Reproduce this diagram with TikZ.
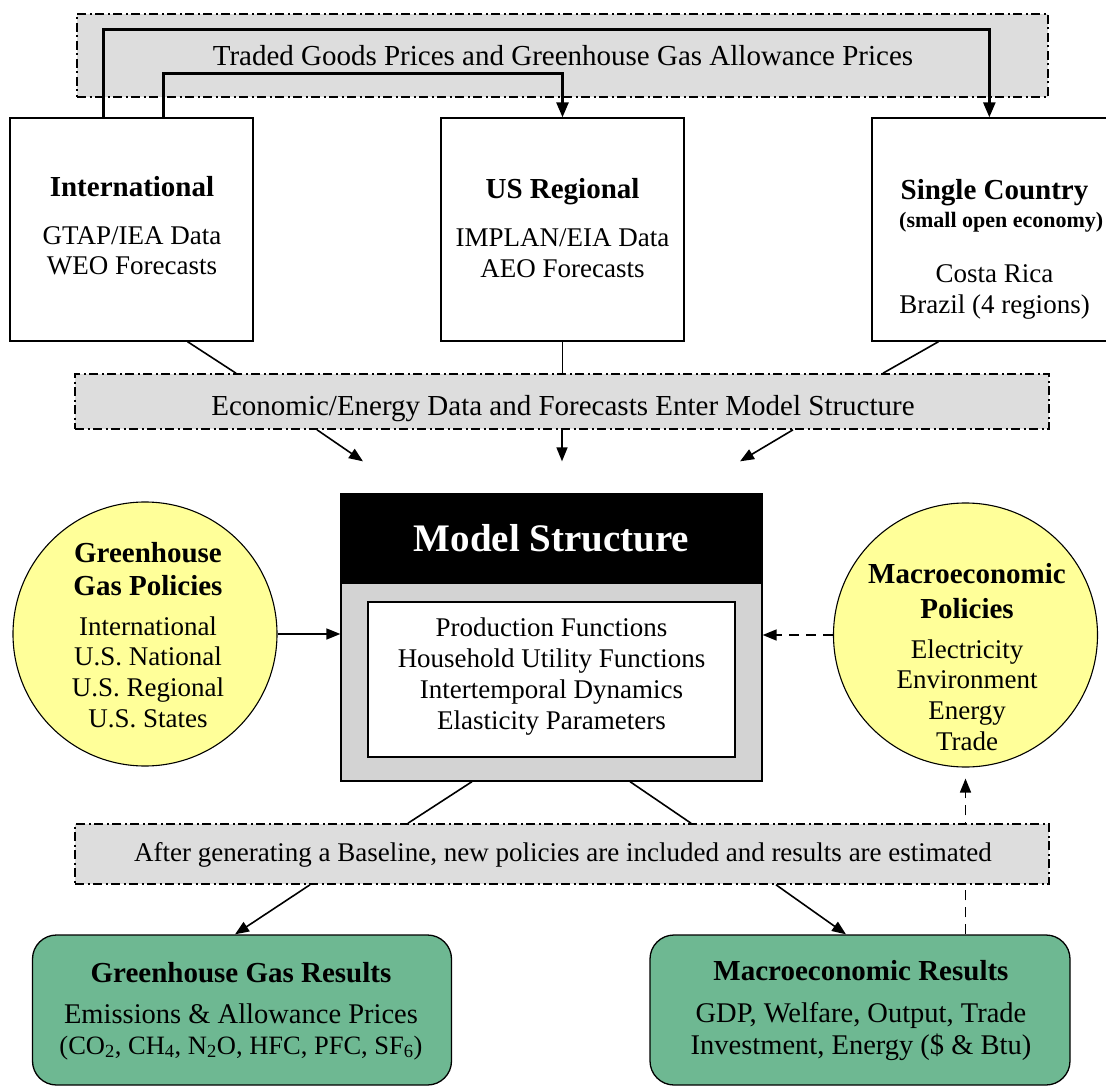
\documentclass[tikz,border=0pt]{standalone}
\usepackage{fontspec}
\setmainfont{Liberation Serif}
\usetikzlibrary{arrows.meta}
\definecolor{bandgray}{HTML}{DDDDDD}
\definecolor{modelgray}{HTML}{D3D3D3}
\definecolor{policyyellow}{HTML}{FFFF99}
\definecolor{resultgreen}{HTML}{6EB892}
\newcommand{\fsz}[2]{\fontsize{#1}{#2}\selectfont}
\begin{document}
\begin{tikzpicture}[x=1pt,y=-1pt,
  every node/.style={inner sep=0pt},
  band/.style={draw,fill=bandgray,line width=1.6pt,dash pattern=on 9pt off 3.5pt on 2pt off 3.5pt,minimum width=974pt},
  srcbox/.style={draw,fill=white,line width=1.3pt,minimum width=243pt,minimum height=223pt},
  policy/.style={circle,draw,fill=policyyellow,line width=1.1pt,minimum size=264pt},
  result/.style={draw,fill=resultgreen,line width=1.3pt,rounded corners=24pt,minimum width=419pt,minimum height=150pt},
  title/.style={anchor=base,font=\bfseries\fsz{29}{33}},
  body/.style={anchor=base,font=\fsz{27}{31}},
  link/.style={line width=1.6pt},
  feed/.style={link,-{Triangle[length=14pt,width=11pt]}},
  back/.style={feed,dash pattern=on 10pt off 7pt},
  price/.style={line width=2.6pt,-{Triangle[length=15pt,width=12pt]}}]
\useasboundingbox (0,0) rectangle (1106,1086);

% traded prices band
\node[band,minimum width=971pt,minimum height=83pt] (tradeband) at (562.5,55.5) {};
\node[body,font=\fsz{29}{33}] (tradetxt) at (563,66) {Traded Goods Prices and Greenhouse Gas Allowance Prices};

% data sources
\node[srcbox] (intl) at (131.5,229.5) {};
\node[title] (intl-t) at (132,197) {International};
\node[body] (intl-a) at (132,245) {GTAP/IEA Data};
\node[body] (intl-b) at (132,275) {WEO Forecasts};

\node[srcbox] (usreg) at (562.5,229.5) {};
\node[title] (usreg-t) at (562.5,199) {US Regional};
\node[body] (usreg-a) at (562.5,247) {IMPLAN/EIA Data};
\node[body] (usreg-b) at (562.5,277) {AEO Forecasts};

\node[srcbox] (single) at (993.5,229.5) {};
\node[title] (single-t) at (994.5,200) {Single Country};
\node[anchor=base west,font=\bfseries\fsz{22}{26}] (single-s) at (899,228) {(small open economy)};
\node[body] (single-a) at (994.5,282) {Costa Rica};
\node[body] (single-b) at (994.5,313) {Brazil (4 regions)};

\draw[price] ([xshift=94pt]intl.north west) -- ++(0,-88) -| ([xshift=118pt]single.north west);
\draw[price] ([xshift=154pt]intl.north west) -- ++(0,-44) -| (usreg.north);

% data enters model
\node[band,minimum height=55pt] (databand) at (562,401.5) {};
\node[body,font=\fsz{29}{33}] (datatxt) at (563,415) {Economic/Energy Data and Forecasts Enter Model Structure};
\draw[link] ([xshift=56pt]intl.south) -- ([xshift=-326pt]databand.north);
\draw[link] (usreg.south) -- (usreg.south |- databand.north);
\draw[link] ([xshift=-55pt]single.south) -- ([xshift=321pt]databand.north);

% model structure
\node[draw,fill=modelgray,line width=1.3pt,minimum width=421pt,minimum height=287pt] (model) at (551.5,637.5) {};
\node[draw,fill=black,line width=1.3pt,minimum width=421pt,minimum height=89pt] (modelhead) at (551.5,538.5) {};
\node[anchor=base,text=white,font=\bfseries\fsz{39}{44}] (modelhead-t) at (551.5,551) {Model Structure};
\node[draw,fill=white,line width=1.3pt,minimum width=367pt,minimum height=155pt] (modelcore) at (551.5,679.5) {};
\node[body] (core-a) at (551.5,636) {Production Functions};
\node[body] (core-b) at (551.5,667) {Household Utility Functions};
\node[body] (core-c) at (551.5,698) {Intertemporal Dynamics};
\node[body] (core-d) at (551.5,729) {Elasticity Parameters};

\draw[feed] ([xshift=-245pt]databand.south) -- ([xshift=-188.5pt,yshift=32pt]model.north);
\draw[feed] (databand.south) -- ([xshift=10.5pt,yshift=32pt]model.north);
\draw[feed] ([xshift=231pt]databand.south) -- ([xshift=188.5pt,yshift=32pt]model.north);

% policies
\node[policy] (ghgpol) at (145,634) {};
\node[title] (ghgpol-t) at (148,562) {Greenhouse};
\node[title] (ghgpol-u) at (148,595) {Gas Policies};
\node[body] (ghgpol-a) at (148,635) {International};
\node[body] (ghgpol-b) at (148,665) {U.S. National};
\node[body] (ghgpol-c) at (148,696) {U.S. Regional};
\node[body] (ghgpol-d) at (148,727) {U.S. States};

\node[policy] (macpol) at (965.5,635) {};
\node[title] (macpol-t) at (967,583) {Macroeconomic};
\node[title] (macpol-u) at (967,618) {Policies};
\node[body] (macpol-a) at (967,658) {Electricity};
\node[body] (macpol-b) at (967,688) {Environment};
\node[body] (macpol-c) at (967,719) {Energy};
\node[body] (macpol-d) at (967,750) {Trade};

\draw[feed] (ghgpol.east) -- (ghgpol.east -| model.west);
\draw[back] (macpol.west) -- (macpol.west -| model.east);

% results
\node[result] (ghgres) at (242,1010) {};
\node[title] (ghgres-t) at (241,982) {Greenhouse Gas Results};
\node[body,font=\fsz{28.5}{32}] (ghgres-a) at (241,1023) {Emissions \& Allowance Prices};
\node[body,font=\fsz{26.5}{30}] (ghgres-b) at (241,1054) {(CO\textsubscript{2}, CH\textsubscript{4}, N\textsubscript{2}O, HFC, PFC, SF\textsubscript{6})};

\node[result,minimum width=420pt] (macres) at (860,1010) {};
\node[title] (macres-t) at (861,980) {Macroeconomic Results};
\node[body,font=\fsz{28.5}{32}] (macres-a) at (861,1022) {GDP, Welfare, Output, Trade};
\node[body,font=\fsz{28.5}{32}] (macres-b) at (861,1054) {Investment, Energy (\$ \& Btu)};

\draw[back] (macres.north -| macpol.south) -- ([yshift=-11pt]macpol.south);

% baseline and policy runs
\node[band,minimum height=60pt] (resband) at (562,854) {};
\node[body] (restxt) at (563,861) {After generating a Baseline, new policies are included and results are estimated};
\draw[link] ([xshift=-79.5pt]model.south) -- ([xshift=-154pt]resband.north);
\draw[link] ([xshift=78.5pt]model.south) -- ([xshift=129pt]resband.north);
\draw[feed] ([xshift=-252pt]resband.south) -- ([xshift=-7pt]ghgres.north);
\draw[feed] ([xshift=214pt]resband.south) -- ([xshift=-14pt]macres.north);
\end{tikzpicture}
\end{document}
